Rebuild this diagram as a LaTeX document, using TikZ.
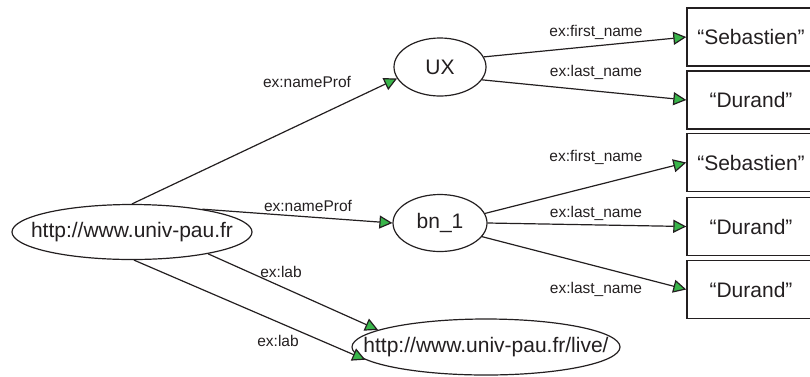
\documentclass[tikz,border=0pt]{standalone}
\usepackage{fontspec}
\setmainfont{Liberation Sans}
\usetikzlibrary{arrows.meta,shapes.geometric}
\definecolor{ink}{RGB}{35,31,32}
\definecolor{tipgreen}{RGB}{57,181,74}
\newcommand\nb[1]{\makebox[0pt]{#1}}
\begin{document}
\begin{tikzpicture}[x=1pt,y=-1pt,
  res/.style={draw=ink, line width=1.2pt, ellipse, inner sep=0pt, text=ink, font=\fontsize{21}{24}\selectfont},
  lit/.style={draw=ink, line width=1.4pt, rectangle, inner sep=0pt, minimum width=128pt, minimum height=58pt, text=ink, font=\fontsize{21}{24}\selectfont},
  prop/.style={text=ink, inner sep=0pt, font=\fontsize{15.5}{18}\selectfont},
  rel/.style={draw=ink, line width=1.2pt, -{Triangle[length=13pt,width=13pt,fill=tipgreen]}}]
\useasboundingbox (0,0) rectangle (810,376);
\clip (0,0) rectangle (810,376);
% resource nodes
\node[res, minimum width=240pt, minimum height=55pt] (univ) at (132,232) {\nb{http://www.univ-pau.fr}};
\node[res, minimum width=92pt, minimum height=58pt] (ux) at (440,67) {\nb{UX}};
\node[res, minimum width=94pt, minimum height=57pt] (bn) at (440,223) {\nb{bn\_1}};
\node[res, minimum width=268pt, minimum height=56pt] (live) at (486,347) {\nb{http://www.univ-pau.fr/live/}};
% literal nodes
\node[lit] (seb1) at (751,37) {\nb{“Sebastien”}};
\node[lit] (dur1) at (751,100) {\nb{“Durand”}};
\node[lit] (seb2) at (751,162.5) {\nb{“Sebastien”}};
\node[lit] (dur2) at (751,226.5) {\nb{“Durand”}};
\node[lit] (dur3) at (751,289.5) {\nb{“Durand”}};
% edges
\draw[rel] (univ.north) -- (ux.195);
\draw[rel] (univ.18) -- (bn.west);
\draw[rel] (univ.-16) -- (live.171);
\draw[rel] (univ.-86) -- (live.186);
\draw[rel] (ux.13) -- (seb1.west);
\draw[rel] (ux.-17) -- (dur1.west);
\draw[rel] (bn.12) -- (seb2.west);
\draw[rel] (bn.east) -- (dur2.west);
\draw[rel] (bn.-18) -- (dur3.west);
% edge labels
\node[prop] (l1) at (307,82) {ex:nameProf};
\node[prop] (l2) at (308,206) {ex:nameProf};
\node[prop] (l3) at (281,272) {ex:lab};
\node[prop] (l4) at (278,341) {ex:lab};
\node[prop] (l5) at (596,32) {ex:first\_name};
\node[prop] (l6) at (596,72) {ex:last\_name};
\node[prop] (l7) at (596,157) {ex:first\_name};
\node[prop] (l8) at (596,213) {ex:last\_name};
\node[prop] (l9) at (596,289) {ex:last\_name};
\end{tikzpicture}
\end{document}
